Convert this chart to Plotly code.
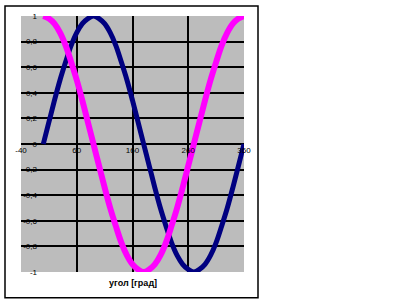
import plotly.graph_objects as go

angle_deg = list(range(0, 361, 10))
sin_vals = [0, 0.17, 0.34, 0.5, 0.64, 0.77, 0.87, 0.94, 0.98, 1, 0.98, 0.94, 0.87, 0.77, 0.64, 0.5, 0.34, 0.17,
            0, -0.17, -0.34, -0.5, -0.64, -0.77, -0.87, -0.94, -0.98, -1, -0.98, -0.94, -0.87, -0.77, -0.64, -0.5,
            -0.34, -0.17, 0]
cos_vals = [1, 0.98, 0.94, 0.87, 0.77, 0.64, 0.5, 0.34, 0.17, 0, -0.17, -0.34, -0.5, -0.64, -0.77, -0.87, -0.94,
            -0.98, -1, -0.98, -0.94, -0.87, -0.77, -0.64, -0.5, -0.34, -0.17, 0, 0.17, 0.34, 0.5, 0.64, 0.77, 0.87,
            0.94, 0.98, 1]
x_tickvals = [-40, 60, 160, 260, 360]
x_ticktext = ["-40", "60", "160", "260", "360"]
y_tickvals = [1, 0.8, 0.6, 0.4, 0.2, 0, -0.2, -0.4, -0.6, -0.8, -1]
y_ticktext = ["1", "0,8", "0,6", "0,4", "0,2", "0", "-0,2", "-0,4", "-0,6", "-0,8", "-1"]
x_title = "угол [град]"

fig = go.Figure()
fig.add_trace(go.Scatter(x=angle_deg, y=sin_vals, mode="lines", line=dict(color="#000080", width=5, shape="spline"),
                         showlegend=False))
fig.add_trace(go.Scatter(x=angle_deg, y=cos_vals, mode="lines", line=dict(color="#ff00ff", width=6, shape="spline"),
                         showlegend=False))

W, H = 418, 302
L, R, T, B = 21, 174, 13, 30
pw, ph = W - L - R, H - T - B

fig.update_layout(
    width=W, height=H,
    margin=dict(l=L, r=R, t=T, b=B, pad=0),
    paper_bgcolor="white",
    plot_bgcolor="#bcbcbc",
    font=dict(family="Liberation Sans, Arial", size=8, color="black"),
    xaxis=dict(range=[-40, 360], tickvals=x_tickvals, ticktext=x_ticktext, showgrid=True, gridcolor="black",
               gridwidth=1.5, zeroline=False, anchor="free", position=0.5, showline=False, ticks="",
               tickfont=dict(size=8), fixedrange=True),
    yaxis=dict(range=[-1, 1], tickvals=y_tickvals, ticktext=y_ticktext, showgrid=True, gridcolor="black",
               gridwidth=1.5, zeroline=True, zerolinecolor="black", zerolinewidth=1.5, anchor="free",
               position=(37 - L) / pw, showline=False, ticks="", tickfont=dict(size=8), fixedrange=True),
    annotations=[dict(text="<b>" + x_title + "</b>", xref="paper", yref="paper", x=0.5,
                      y=-(283 - (T + ph)) / ph, showarrow=False, font=dict(size=9),
                      xanchor="center", yanchor="middle")],
    shapes=[dict(type="rect", xref="paper", yref="paper", x0=(5 - L) / pw, x1=(258 - L) / pw,
                 y0=-(298 - (T + ph)) / ph, y1=(T + ph - 3) / ph, line=dict(color="black", width=1.5))],
)

fig.write_html("out.html")
